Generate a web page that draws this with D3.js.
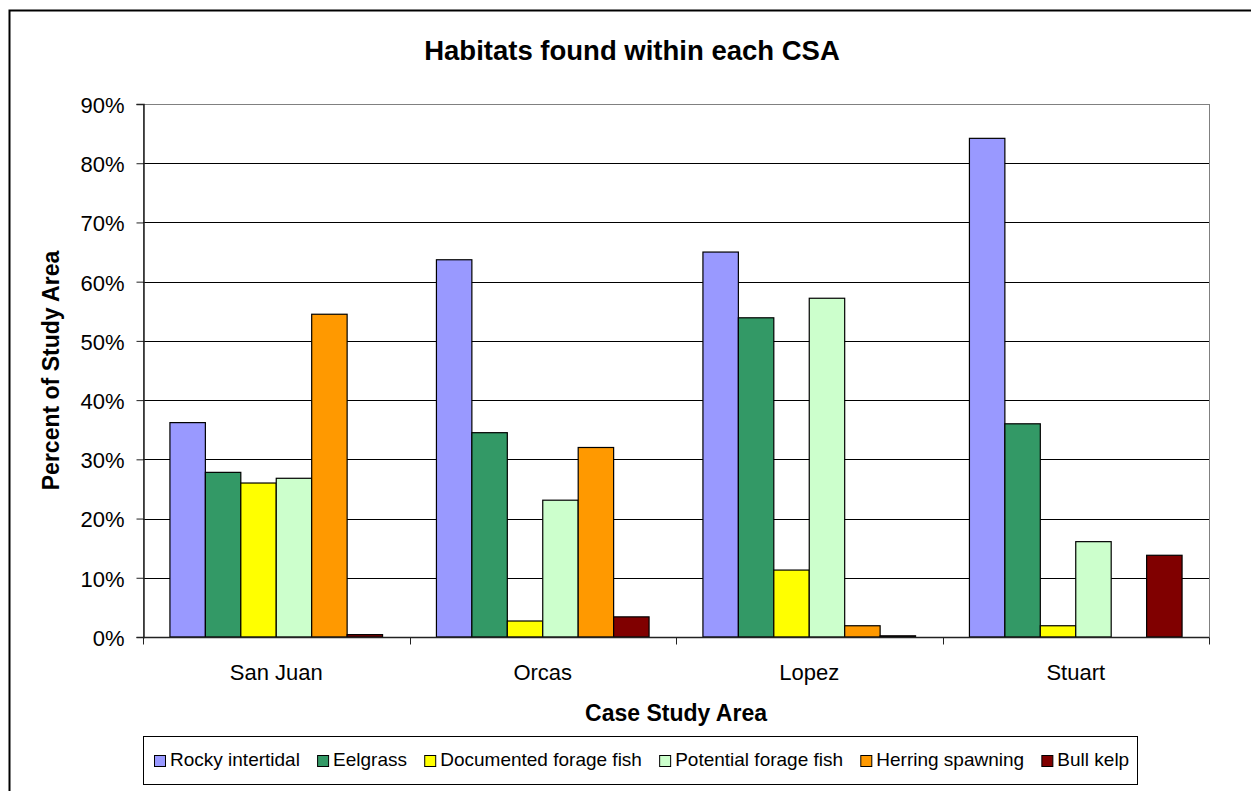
<!DOCTYPE html>
<html>
<head>
<meta charset="utf-8">
<script src="https://cdn.jsdelivr.net/npm/d3@7/dist/d3.min.js"></script>
<style>
  html, body { margin: 0; padding: 0; background: #fff; }
  svg { display: block; font-family: "Liberation Sans", Arial, sans-serif; }
</style>
</head>
<body>
<svg id="chart" width="1251" height="791"></svg>
<script>
// Case study areas and habitat types
const areas = ["San Juan", "Orcas", "Lopez", "Stuart"];
const habitats = ["Rocky intertidal", "Eelgrass", "Documented forage fish",
                  "Potential forage fish", "Herring spawning", "Bull kelp"];

// Percent of each study area covered by each habitat (one array per habitat, in area order)
const rockyIntertidal   = [36.2, 63.7, 65.0, 84.2];
const eelgrass          = [27.8, 34.5, 53.9, 36.0];
const documentedForage  = [26.0, 2.7, 11.3, 1.9];
const potentialForage   = [26.8, 23.1, 57.2, 16.1];
const herringSpawning   = [54.5, 32.0, 1.9, 0];
const bullKelp          = [0.4, 3.4, 0.2, 13.8];

const yTicks = [0, 10, 20, 30, 40, 50, 60, 70, 80, 90];

const seriesValues = [rockyIntertidal, eelgrass, documentedForage,
                      potentialForage, herringSpawning, bullKelp];
const colors = ["#9999FF", "#339966", "#FFFF00", "#CCFFCC", "#FF9900", "#800000"];

const svg = d3.select("#chart");

// Outer chart frame
svg.append("rect")
  .attr("x", 9.5).attr("y", 10.5)
  .attr("width", 1400).attr("height", 900)
  .attr("fill", "#fff").attr("stroke", "#000").attr("stroke-width", 2);

const plot = { left: 143, right: 1209, top: 104, bottom: 637 };

const y = d3.scaleLinear().domain([0, 90]).range([plot.bottom, plot.top]);
const x0 = d3.scaleBand().domain(areas).range([plot.left, plot.right]).padding(0);
const x1 = d3.scaleBand().domain(habitats).range([0, x0.bandwidth()])
  .paddingInner(0).paddingOuter(0.76);

// Plot area frame (grey)
svg.append("rect")
  .attr("x", plot.left + 0.5).attr("y", plot.top + 0.5)
  .attr("width", plot.right - plot.left).attr("height", plot.bottom - plot.top)
  .attr("fill", "none").attr("stroke", "#808080").attr("stroke-width", 1);

// Horizontal gridlines
svg.append("g")
  .selectAll("line")
  .data(yTicks.filter(t => t > 0 && t < 90))
  .join("line")
  .attr("x1", plot.left).attr("x2", plot.right)
  .attr("y1", d => Math.round(y(d)) + 0.5).attr("y2", d => Math.round(y(d)) + 0.5)
  .attr("stroke", "#000").attr("stroke-width", 1);

// Bars
const groups = svg.append("g")
  .selectAll("g")
  .data(habitats.map((h, i) => ({ h, i })))
  .join("g")
  .attr("fill", d => colors[d.i]);

groups.selectAll("rect")
  .data(d => areas.map((a, j) => ({ a, h: d.h, v: seriesValues[d.i][j] })).filter(e => e.v > 0))
  .join("rect")
  .attr("x", d => x0(d.a) + x1(d.h))
  .attr("width", x1.bandwidth())
  .attr("y", d => y(d.v))
  .attr("height", d => y(0) - y(d.v))
  .attr("stroke", "#000").attr("stroke-width", 1.2);

// Y axis
const yAxis = d3.axisLeft(y)
  .tickValues(yTicks)
  .tickSize(7)
  .tickPadding(12)
  .tickFormat(d => d + "%");

const yg = svg.append("g")
  .attr("transform", `translate(${plot.left + 0.5},0)`)
  .call(yAxis);
yg.select(".domain").attr("stroke", "#222").attr("stroke-width", 1.5);
yg.selectAll(".tick line").attr("stroke", "#222");
yg.selectAll(".tick text")
  .attr("font-size", 22).attr("fill", "#000")
  .attr("dy", "0.38em")
  .attr("font-family", "'Liberation Sans', Arial, sans-serif");

// X axis with boundary ticks between categories
const xg = svg.append("g")
  .attr("transform", `translate(0,${plot.bottom + 0.5})`);
xg.append("line")
  .attr("x1", plot.left).attr("x2", plot.right)
  .attr("stroke", "#222").attr("stroke-width", 1.5);
xg.selectAll("line.tick")
  .data(areas.concat([null]))
  .join("line")
  .attr("class", "tick")
  .attr("x1", (d, i) => Math.round(plot.left + i * x0.step()) + 0.5)
  .attr("x2", (d, i) => Math.round(plot.left + i * x0.step()) + 0.5)
  .attr("y1", 0).attr("y2", 7)
  .attr("stroke", "#222");
xg.selectAll("text")
  .data(areas)
  .join("text")
  .attr("x", d => x0(d) + x0.bandwidth() / 2)
  .attr("y", 42)
  .attr("text-anchor", "middle")
  .attr("font-size", 22)
  .text(d => d);

// Titles
svg.append("text")
  .attr("x", 632).attr("y", 60)
  .attr("text-anchor", "middle")
  .attr("font-size", 27.5).attr("font-weight", "bold")
  .text("Habitats found within each CSA");

svg.append("text")
  .attr("x", (plot.left + plot.right) / 2).attr("y", 721)
  .attr("text-anchor", "middle")
  .attr("font-size", 23).attr("font-weight", "bold")
  .text("Case Study Area");

svg.append("text")
  .attr("transform", `translate(59,${(plot.top + plot.bottom) / 2}) rotate(-90)`)
  .attr("text-anchor", "middle")
  .attr("font-size", 23).attr("font-weight", "bold")
  .text("Percent of Study Area");

// Legend
const legend = svg.append("g");
legend.append("rect")
  .attr("x", 143.5).attr("y", 736.5)
  .attr("width", 994).attr("height", 48)
  .attr("fill", "#fff").attr("stroke", "#000").attr("stroke-width", 1);

let lx = 154;
habitats.forEach((h, i) => {
  legend.append("rect")
    .attr("x", lx + 0.5).attr("y", 755.5)
    .attr("width", 11).attr("height", 11)
    .attr("fill", colors[i]).attr("stroke", "#000").attr("stroke-width", 1);
  const t = legend.append("text")
    .attr("x", lx + 16).attr("y", 766)
    .attr("font-size", 19)
    .text(h);
  lx += 16 + t.node().getComputedTextLength() + 17.2;
});
</script>
</body>
</html>
